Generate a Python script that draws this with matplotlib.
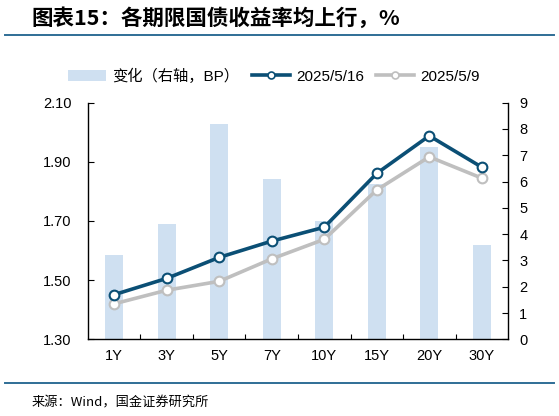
import matplotlib
matplotlib.use("Agg")
import matplotlib.pyplot as plt
from matplotlib.lines import Line2D
from matplotlib.patches import Patch
import numpy as np

# data
tenors = ["1Y", "3Y", "5Y", "7Y", "10Y", "15Y", "20Y", "30Y"]
yield_0516 = [1.451, 1.506, 1.577, 1.632, 1.679, 1.861, 1.988, 1.882]
yield_0509 = [1.420, 1.466, 1.496, 1.572, 1.638, 1.805, 1.917, 1.845]
change_bp = [3.2, 4.4, 8.2, 6.1, 4.5, 5.9, 7.3, 3.6]

left_ticks = [1.30, 1.50, 1.70, 1.90, 2.10]
right_ticks = list(range(0, 10))

navy = "#0B4F75"
grey = "#BFBFBF"
bar_col = "#CFE0F1"
rule_col = "#2F6E96"

plt.rcParams["font.family"] = ["Liberation Sans", "Noto Sans CJK SC"]

fig = plt.figure(figsize=(5.59, 4.16), dpi=100)
ax = fig.add_axes([0.1574, 0.1844, 0.7514, 0.5687])
ax2 = ax.twinx()

x = np.arange(len(tenors))

# bars on right axis, drawn underneath the lines
ax2.bar(x, change_bp, width=0.34, color=bar_col, zorder=1)
ax2.set_ylim(0, 9)
ax2.set_yticks(right_ticks)

ax.set_zorder(ax2.get_zorder() + 1)
ax.patch.set_visible(False)
ax.plot(x, yield_0509, color=grey, lw=2.6, marker="o", ms=7, mfc="white",
        mec=grey, mew=1.5, zorder=3)
ax.plot(x, yield_0516, color=navy, lw=2.6, marker="o", ms=7, mfc="white",
        mec=navy, mew=1.5, zorder=4)

ax.set_xlim(-0.5, len(tenors) - 0.5)
ax.set_ylim(1.30, 2.10)
ax.set_yticks(left_ticks)
ax.set_yticklabels([f"{v:.2f}" for v in left_ticks])
ax.set_xticks(x)
ax.set_xticklabels(tenors)
ax.set_xticks(np.arange(0.5, len(tenors) - 1, 1), minor=True)

for a in (ax, ax2):
    a.spines["top"].set_visible(False)
    for s in a.spines.values():
        s.set_linewidth(1.0)
        s.set_color("black")
ax.spines["right"].set_visible(False)
ax2.spines["left"].set_visible(False)
ax2.spines["bottom"].set_visible(False)

ax.tick_params(axis="x", which="major", length=0, labelsize=10.5, pad=7)
ax.tick_params(axis="x", which="minor", direction="in", length=3.5, width=0.8)
ax.tick_params(axis="y", direction="in", length=4, width=0.8, labelsize=10.5, pad=12)
ax2.tick_params(axis="y", direction="in", length=4, width=0.8, labelsize=10.5, pad=8)

handles = [
    Patch(facecolor=bar_col, edgecolor="none"),
    Line2D([], [], color=navy, lw=2.6, marker="o", ms=5, mfc="white", mec=navy, mew=1.2),
    Line2D([], [], color=grey, lw=2.6, marker="o", ms=5, mfc="white", mec=grey, mew=1.2),
]
labels = ["变化（右轴，BP）", "2025/5/16", "2025/5/9"]
fig.legend(handles, labels, loc="center", bbox_to_anchor=(0.49, 0.817), ncol=3,
           frameon=False, fontsize=11, handlelength=2.5, handleheight=0.7,
           columnspacing=0.8, handletextpad=0.4)

fig.text(0.057, 0.957, "图表15：各期限国债收益率均上行，%", fontsize=15.5, fontweight="bold",
         family=["Noto Sans CJK SC", "DejaVu Sans"], va="center", ha="left")
fig.add_artist(Line2D([0.009, 0.991], [0.916, 0.916], transform=fig.transFigure,
                      color=rule_col, lw=1.4))
fig.add_artist(Line2D([0.009, 0.991], [0.079, 0.079], transform=fig.transFigure,
                      color=rule_col, lw=1.4))
fig.text(0.057, 0.031, "来源：Wind，国金证券研究所", fontsize=9.5,
         family=["Noto Sans CJK SC", "DejaVu Sans"], va="center", ha="left")

fig.savefig("out.png", dpi=100)
